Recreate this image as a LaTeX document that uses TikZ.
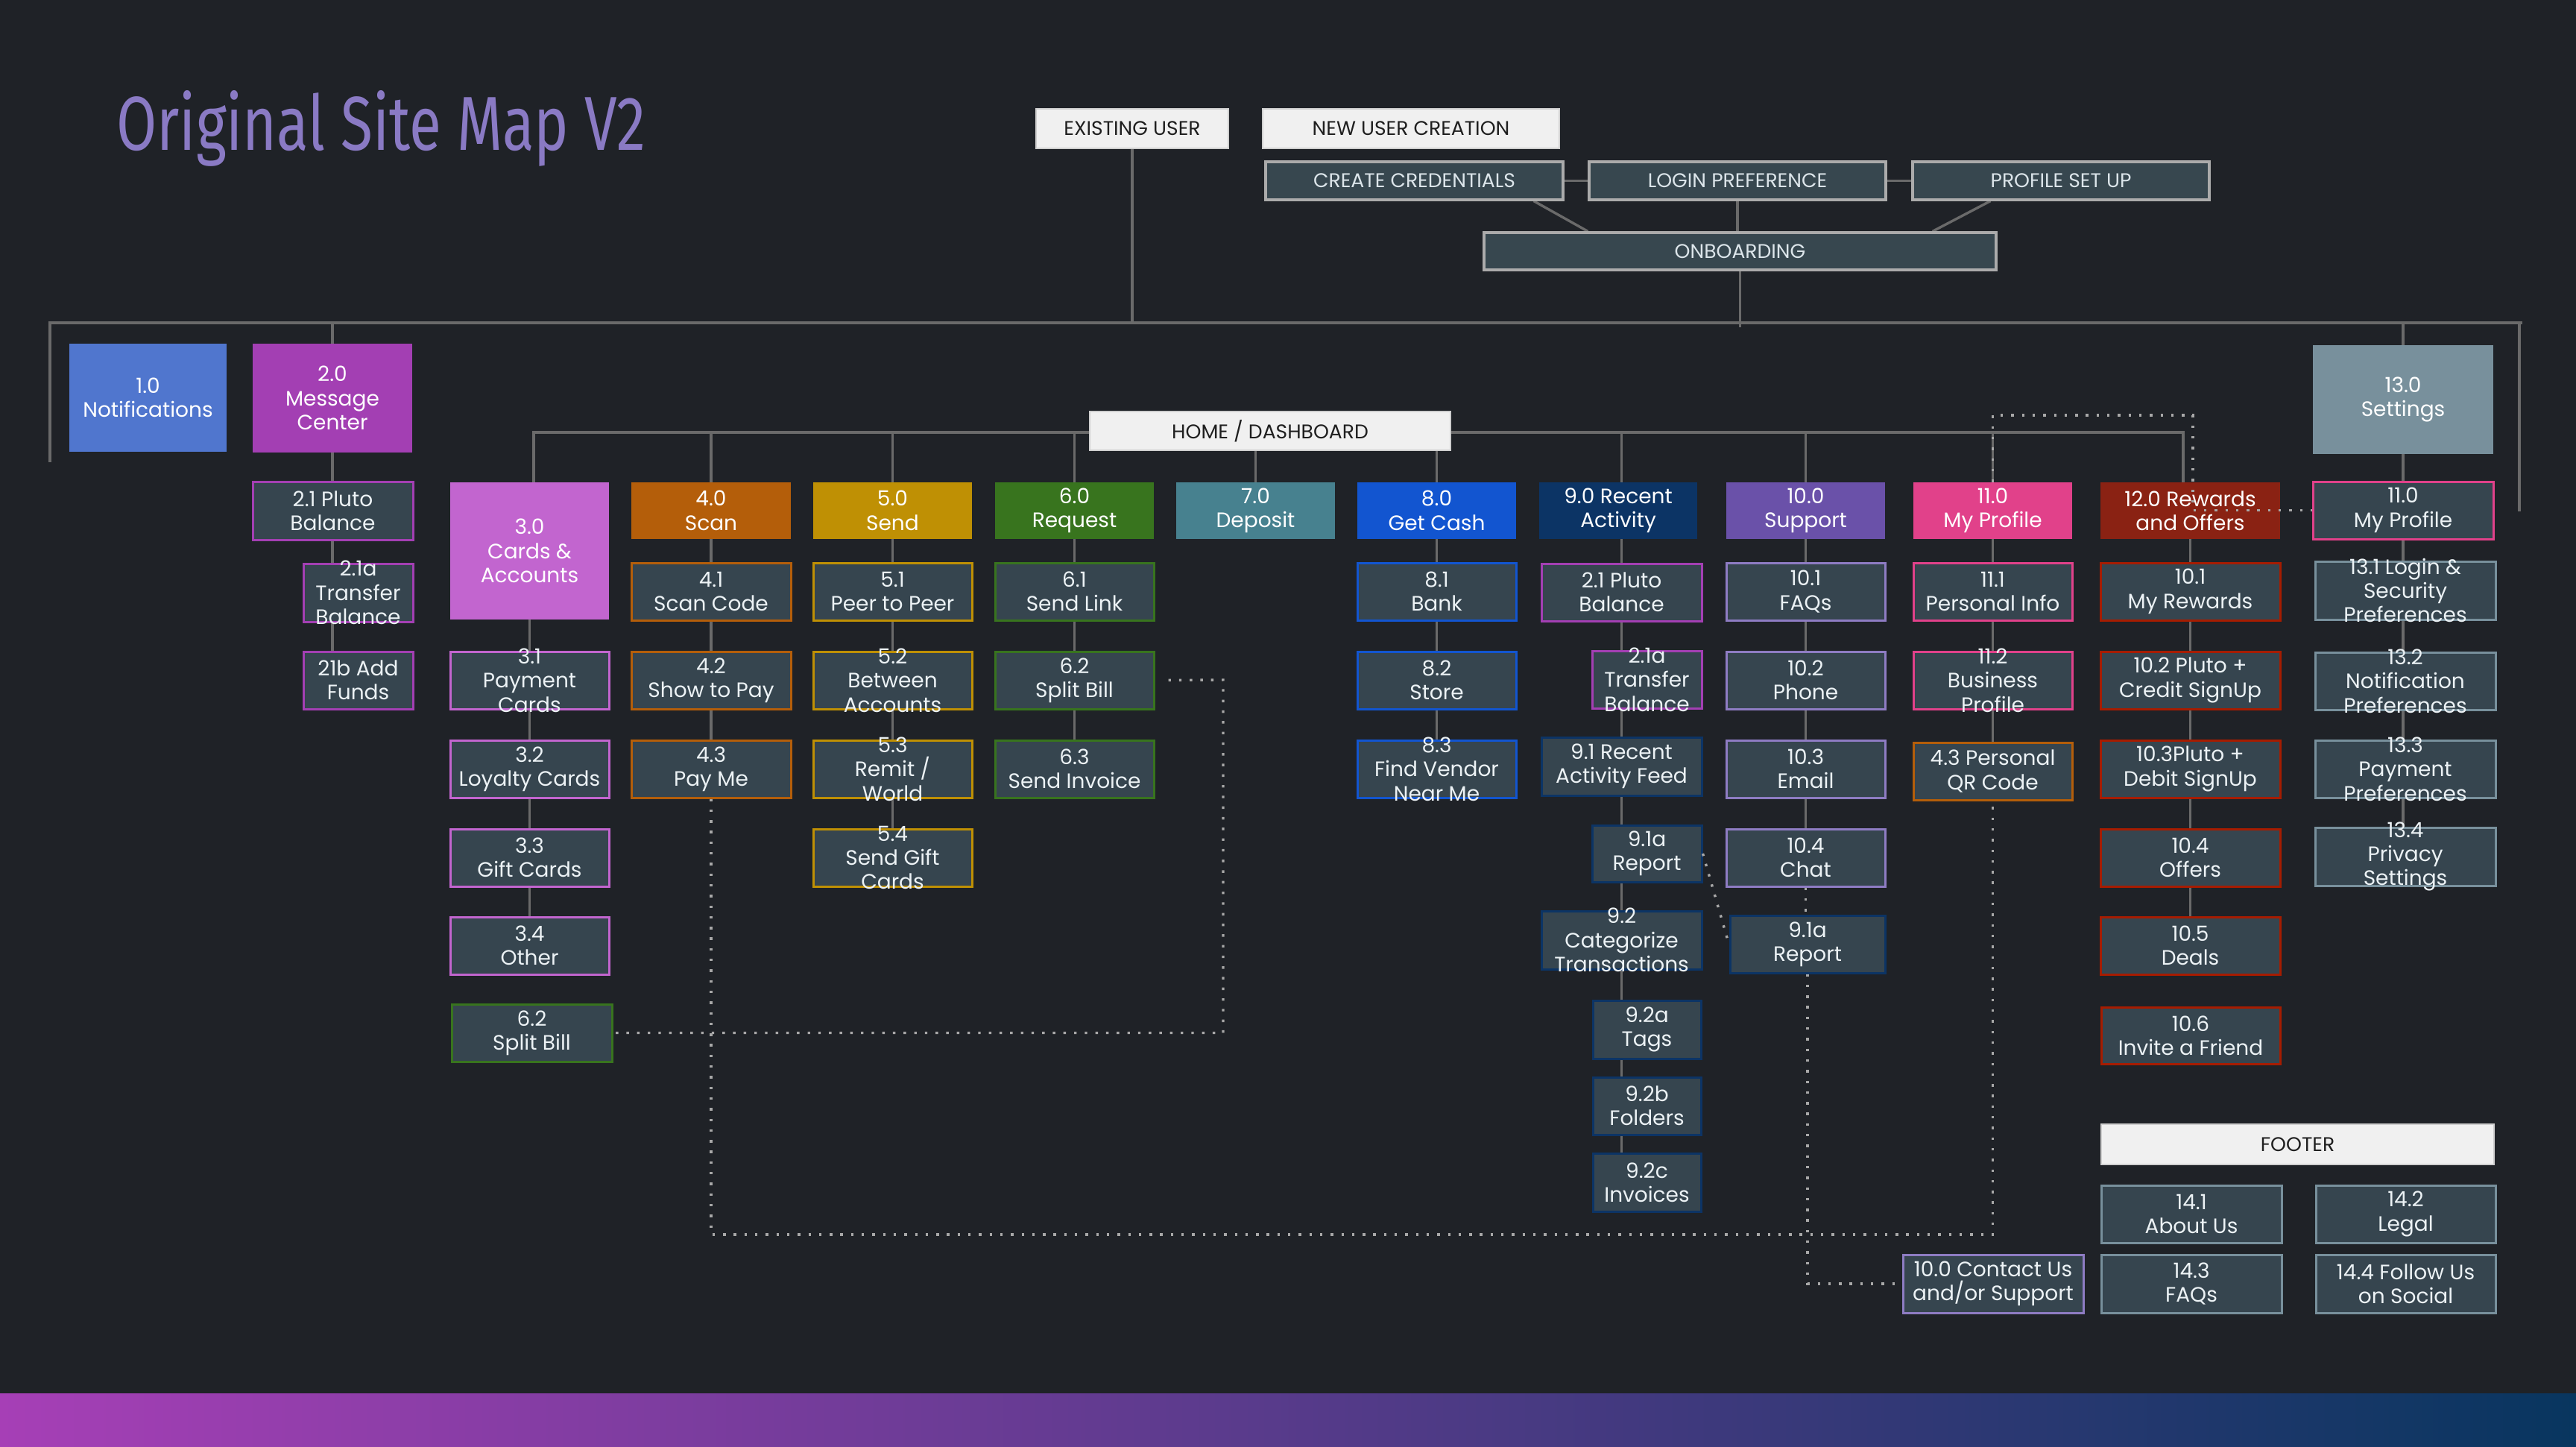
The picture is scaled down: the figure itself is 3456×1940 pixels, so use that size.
\documentclass[tikz,border=0pt]{standalone}
\usepackage{graphicx}
\usepackage{fontspec}
\setmainfont{Poppins}
\newfontfamily\titlefont{Fira Sans}
\usetikzlibrary{fit,backgrounds,calc}
\definecolor{bgc}{HTML}{1F2227}
\definecolor{lnc}{HTML}{6A6A6A}
\definecolor{dotc}{HTML}{A8A8A8}
\definecolor{boxf}{HTML}{36454F}
\definecolor{wbf}{HTML}{F0F0F0}
\definecolor{wbd}{HTML}{CFCFCF}
\definecolor{tbf}{HTML}{37474F}
\definecolor{tbd}{HTML}{ABABAB}
\definecolor{ctc}{HTML}{ECF2F5}
\definecolor{ttc}{HTML}{DCE5EA}
\definecolor{titlec}{HTML}{8A7AC4}
\definecolor{cA}{HTML}{5076CE}
\definecolor{cB}{HTML}{A33FB3}
\definecolor{cC}{HTML}{C265CF}
\definecolor{cD}{HTML}{B45E0A}
\definecolor{cE}{HTML}{BF9004}
\definecolor{cF}{HTML}{38741E}
\definecolor{cG}{HTML}{47818F}
\definecolor{cH}{HTML}{1255D0}
\definecolor{cI}{HTML}{0C3465}
\definecolor{cJ}{HTML}{6A51A9}
\definecolor{cJl}{HTML}{8E7CC3}
\definecolor{cK}{HTML}{E1418A}
\definecolor{cL}{HTML}{8A2213}
\definecolor{cLb}{HTML}{A61C00}
\definecolor{cM}{HTML}{78909C}
\definecolor{gl}{HTML}{A63FB6}
\definecolor{gm}{HTML}{5E3B8C}
\definecolor{gr}{HTML}{08365F}
\tikzset{
  conn/.style={draw=lnc, line width=1.7pt},
  dotl/.style={draw=dotc, line width=1.7pt, dash pattern=on 1.7pt off 5.45pt},
  hdr/.style={fill=#1, draw=none, inner sep=0pt},
  cbox/.style={fill=boxf, draw=#1, line width=1.5pt, inner sep=0pt},
  wbox/.style={fill=wbf, draw=wbd, line width=1pt, inner sep=0pt},
  tbox/.style={fill=tbf, draw=tbd, line width=1.6pt, inner sep=0pt},
  ht/.style={text=white, align=center, inner sep=0pt, font=\fontsize{14}{16.2}\selectfont},
  ct/.style={text=ctc, align=center, inner sep=0pt, font=\fontsize{14}{16.2}\selectfont},
  ut/.style={text=black!88, inner sep=0pt, font=\fontsize{13.3}{15}\selectfont},
  tt/.style={text=ttc, inner sep=0pt, font=\fontsize{13.3}{15}\selectfont},
}
\newcommand\bx[8]{\node[fit={(#2,#3) (#4,#5)}, #6] (#1) {};\node[#7] (#1-t) at (#1.center) {#8};}
\begin{document}
\begin{tikzpicture}[x=0.5pt,y=-0.5pt]
\useasboundingbox (0,0) rectangle (3456,1940);
% title
\node[anchor=base west, inner sep=0pt, text=titlec] (title) at (156,201) {\resizebox{355pt}{40pt}{\titlefont Original Site Map V2}};
% top section
\bx{eu}{1390}{146}{1648}{199}{wbox}{ut}{EXISTING USER}
\bx{nu}{1694}{146}{2092}{199}{wbox}{ut}{NEW USER CREATION}
\bx{cc}{1698}{217}{2097}{268}{tbox}{tt}{CREATE CREDENTIALS}
\bx{lp}{2132}{217}{2530}{268}{tbox}{tt}{LOGIN PREFERENCE}
\bx{ps}{2566}{217}{2964}{268}{tbox}{tt}{PROFILE SET UP}
\bx{onb}{1991}{312}{2678}{362}{tbox}{tt}{ONBOARDING}
% row 1
\bx{n1}{93}{461}{304}{606}{hdr=cA}{ht}{1.0\\Notifications}
\bx{m2}{339}{461}{553}{607}{hdr=cB}{ht}{2.0\\Message\\Center}
\bx{s13}{3103}{463}{3345}{609}{hdr=cM}{ht}{13.0\\Settings}
% col 2
\bx{p21}{339}{646}{554}{724}{cbox=cB}{ct}{2.1 Pluto\\Balance}
\bx{p21a}{407}{756}{554}{834}{cbox=cB}{ct}{2.1a\\Transfer\\Balance}
\bx{p21b}{407}{874}{554}{951}{cbox=cB}{ct}{21b Add\\Funds}
% home
\bx{home}{1462}{552}{1946}{604}{wbox}{ut}{HOME / DASHBOARD}
% headers
\bx{h3}{604}{647}{817}{831}{hdr=cC}{ht}{3.0\\Cards \&\\Accounts}
\bx{h4}{847}{647}{1061}{723}{hdr=cD}{ht}{4.0\\Scan}
\bx{h5}{1091}{647}{1304}{723}{hdr=cE}{ht}{5.0\\Send}
\bx{h6}{1335}{647}{1548}{723}{hdr=cF}{ht}{6.0\\Request}
\bx{h7}{1578}{647}{1791}{723}{hdr=cG}{ht}{7.0\\Deposit}
\bx{h8}{1821}{647}{2034}{723}{hdr=cH}{ht}{8.0\\Get Cash}
\bx{h9}{2065}{647}{2277}{723}{hdr=cI}{ht}{9.0 Recent\\Activity}
\bx{h10}{2316}{647}{2529}{723}{hdr=cJ}{ht}{10.0\\Support}
\bx{h11}{2567}{647}{2780}{723}{hdr=cK}{ht}{11.0\\My Profile}
\bx{h12}{2818}{647}{3059}{723}{hdr=cL}{ht}{12.0 Rewards\\and Offers}
\bx{p13}{3103}{646}{3345}{723}{cbox=cK}{ct}{11.0\\My Profile}
% col 3
\bx{c31}{604}{874}{817}{951}{cbox=cC}{ct}{3.1\\Payment\\Cards}
\bx{c32}{604}{993}{817}{1070}{cbox=cC}{ct}{3.2\\Loyalty Cards}
\bx{c33}{604}{1112}{817}{1189}{cbox=cC}{ct}{3.3\\Gift Cards}
\bx{c34}{604}{1230}{817}{1307}{cbox=cC}{ct}{3.4\\Other}
\bx{sb3}{606}{1347}{821}{1424}{cbox=cF}{ct}{6.2\\Split Bill}
% col 4
\bx{c41}{847}{755}{1061}{832}{cbox=cD}{ct}{4.1\\Scan Code}
\bx{c42}{847}{874}{1061}{951}{cbox=cD}{ct}{4.2\\Show to Pay}
\bx{c43}{847}{993}{1061}{1070}{cbox=cD}{ct}{4.3\\Pay Me}
% col 5
\bx{c51}{1091}{755}{1304}{832}{cbox=cE}{ct}{5.1\\Peer to Peer}
\bx{c52}{1091}{874}{1304}{951}{cbox=cE}{ct}{5.2\\Between\\Accounts}
\bx{c53}{1091}{993}{1304}{1070}{cbox=cE}{ct}{5.3\\Remit /\\World}
\bx{c54}{1091}{1112}{1304}{1189}{cbox=cE}{ct}{5.4\\Send Gift\\Cards}
% col 6
\bx{c61}{1335}{755}{1548}{832}{cbox=cF}{ct}{6.1\\Send Link}
\bx{sb6}{1335}{874}{1548}{951}{cbox=cF}{ct}{6.2\\Split Bill}
\bx{c63}{1335}{993}{1548}{1070}{cbox=cF}{ct}{6.3\\Send Invoice}
% col 8
\bx{c81}{1821}{755}{2034}{832}{cbox=cH}{ct}{8.1\\Bank}
\bx{c82}{1821}{874}{2034}{951}{cbox=cH}{ct}{8.2\\Store}
\bx{c83}{1821}{993}{2034}{1070}{cbox=cH}{ct}{8.3\\Find Vendor\\Near Me}
% col 9
\bx{c9p}{2068}{756}{2283}{833}{cbox=cB}{ct}{2.1 Pluto\\Balance}
\bx{c9t}{2136}{873}{2283}{950}{cbox=cB}{ct}{2.1a\\Transfer\\Balance}
\bx{c91}{2068}{989}{2283}{1067}{cbox=cI}{ct}{9.1 Recent\\Activity Feed}
\bx{c91a}{2136}{1107}{2283}{1183}{cbox=cI}{ct}{9.1a\\Report}
\bx{c92}{2068}{1222}{2283}{1300}{cbox=cI}{ct}{9.2\\Categorize\\Transactions}
\bx{c92a}{2137}{1342}{2282}{1420}{cbox=cI}{ct}{9.2a\\Tags}
\bx{c92b}{2137}{1445}{2282}{1522}{cbox=cI}{ct}{9.2b\\Folders}
\bx{c92c}{2137}{1547}{2282}{1625}{cbox=cI}{ct}{9.2c\\Invoices}
% col 10
\bx{c101}{2316}{755}{2529}{832}{cbox=cJl}{ct}{10.1\\FAQs}
\bx{c102}{2316}{874}{2529}{951}{cbox=cJl}{ct}{10.2\\Phone}
\bx{c103}{2316}{993}{2529}{1070}{cbox=cJl}{ct}{10.3\\Email}
\bx{c104}{2316}{1112}{2529}{1189}{cbox=cJl}{ct}{10.4\\Chat}
\bx{r91b}{2321}{1228}{2529}{1305}{cbox=cI}{ct}{9.1a\\Report}
\bx{contact}{2553}{1683}{2795}{1761}{cbox=cJl}{ct}{10.0 Contact Us\\and/or Support}
% col 11
\bx{c111}{2567}{755}{2780}{832}{cbox=cK}{ct}{11.1\\Personal Info}
\bx{c112}{2567}{874}{2780}{951}{cbox=cK}{ct}{11.2\\Business\\Profile}
\bx{qr}{2567}{996}{2780}{1073}{cbox=cD}{ct}{4.3 Personal\\QR Code}
% col 12
\bx{c121}{2818}{755}{3059}{832}{cbox=cLb}{ct}{10.1\\My Rewards}
\bx{c122}{2818}{874}{3059}{951}{cbox=cLb}{ct}{10.2 Pluto +\\Credit SignUp}
\bx{c123}{2818}{993}{3059}{1070}{cbox=cLb}{ct}{10.3Pluto +\\Debit SignUp}
\bx{c124}{2818}{1112}{3059}{1189}{cbox=cLb}{ct}{10.4\\Offers}
\bx{c125}{2818}{1230}{3059}{1307}{cbox=cLb}{ct}{10.5\\Deals}
\bx{c126}{2819}{1351}{3059}{1427}{cbox=cLb}{ct}{10.6\\Invite a Friend}
% col 13
\bx{c131}{3106}{753}{3348}{831}{cbox=cM}{ct}{13.1 Login \&\\Security\\Preferences}
\bx{c132}{3106}{875}{3348}{952}{cbox=cM}{ct}{13.2\\Notification\\Preferences}
\bx{c133}{3106}{993}{3348}{1070}{cbox=cM}{ct}{13.3\\Payment\\Preferences}
\bx{c134}{3106}{1110}{3348}{1188}{cbox=cM}{ct}{13.4\\Privacy\\Settings}
% footer
\bx{footer}{2819}{1508}{3346}{1562}{wbox}{ut}{FOOTER}
\bx{f141}{2819}{1590}{3061}{1667}{cbox=cM}{ct}{14.1\\About Us}
\bx{f142}{3107}{1590}{3348}{1667}{cbox=cM}{ct}{14.2\\Legal}
\bx{f143}{2819}{1683}{3061}{1761}{cbox=cM}{ct}{14.3\\FAQs}
\bx{f144}{3107}{1683}{3348}{1761}{cbox=cM}{ct}{14.4 Follow Us\\on Social}
% coordinates
\coordinate (busL) at (67,433);
\coordinate (busR) at (3384,433);
\coordinate (legL) at (67,620);
\coordinate (legR) at (3380,686);
\coordinate (b2L) at (716,580);
\coordinate (b2R) at (2929,580);
\coordinate (dB) at (952,1656);
\coordinate (d2) at (1641,912);
\coordinate (d5) at (2942,557);
% connectors behind
\begin{scope}[on background layer]
\fill[bgc] (0,0) rectangle (3456,1940);
\shade[left color=gl, middle color=gm, right color=gr] (0,1869) rectangle (3456,1940);
\draw[conn] (legL) -- (busL) -- (busR);
\draw[conn] (legR |- busR) -- (legR);
\draw[conn] (eu.south) -- (eu.south |- busL);
\draw[conn] (onb.south) -- ($(onb.south |- busL)+(0,6)$);
\draw[conn] (cc.east) -- (lp.west);
\draw[conn] (lp.east) -- (ps.west);
\draw[conn] ($(cc.south east)+(-41,0)$) -- ($(onb.north west)+(141,0)$);
\draw[conn] (lp.south) -- (lp.south |- onb.north);
\draw[conn] ($(ps.south west)+(106,0)$) -- ($(onb.north east)+(-87,0)$);
\draw[conn] (m2.north) -- (m2.north |- busL);
\draw[conn] (s13.north) -- (s13.north |- busL);
\draw[conn] (m2.south) -- (m2.south |- p21b.north);
\draw[conn] (b2L |- h3.north) -- (b2L) -- (b2R) -- (b2R |- h12.north);
\foreach \h in {h4,h5,h6,h8,h10,h11} {\draw[conn] (\h.north) -- (\h.north |- b2L);}
\draw[conn] (c91.north |- h9.north) -- (c91.north |- b2L);
\draw[conn] (h7.north) -- (h7.north |- home.south);
\draw[conn] (h3.south) -- (h3.south |- c34.north);
\draw[conn] (h4.south) -- (c43.north);
\draw[conn] (h5.south) -- (c54.north);
\draw[conn] (h6.south) -- (c63.north);
\draw[conn] (h8.south) -- (c83.north);
\draw[conn] (c91.north |- h9.south) -- (c91.north |- c92c.north);
\draw[conn] (h10.south) -- (h10.south |- c104.north);
\draw[conn] (h11.south) -- (qr.north);
\draw[conn] (h12.south) -- (h12.south |- c125.north);
\draw[conn] (s13.south) -- (s13.south |- c134.north);
\end{scope}
% dotted links
\draw[dotl] (c43.south) -- (c43.south |- dB) -| (qr.south);
\draw[dotl, shorten <=9pt] (sb6.east) -- (d2) |- (sb3.east);
\draw[dotl] (c104.south) -- (c104.south |- r91b.north);
\draw[dotl] (r91b.south) -- (r91b.south |- contact.west) -- (contact.west);
\draw[dotl] (c91a.east) -- (r91b.west);
\draw[dotl] (h11.north) |- (d5) -- (d5 |- p13.west) -- (p13.west);
\end{tikzpicture}
\end{document}
